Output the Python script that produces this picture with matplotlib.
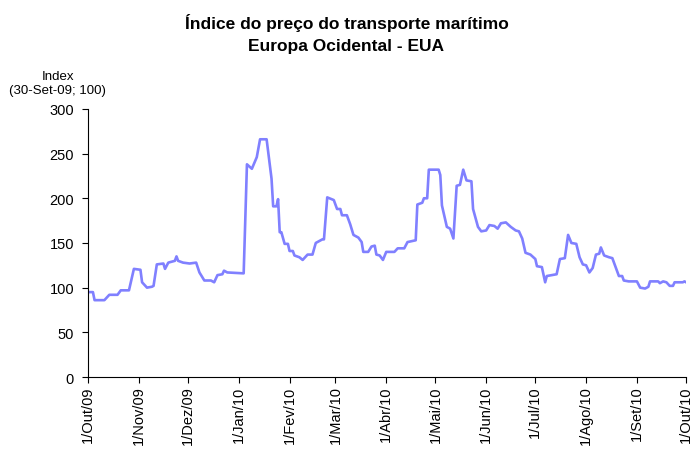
import matplotlib.pyplot as plt
import matplotlib.dates as mdates
import pandas as pd

plt.rcParams['font.family'] = ['Liberation Sans', 'DejaVu Sans']

# dias desde 1/Out/09 e valores do índice
days = [0, 3, 4, 10, 13, 18, 20, 25, 28, 32, 33, 36, 39, 40, 42, 46, 47, 49, 53, 54,
        55, 58, 62, 66, 68, 71, 75, 77, 79, 82, 83, 85, 95, 97, 100, 103, 105, 109, 112, 113,
        115, 116, 117, 118, 120, 122, 123, 125, 126, 129, 131, 134, 137, 139, 143, 144, 146, 150, 152, 154,
        155, 158, 160, 162, 165, 167, 168, 171, 173, 175, 176, 178, 180, 182, 187, 189, 193, 195, 200, 201,
        204, 205, 207, 208, 214, 215, 216, 219, 221, 223, 225, 227, 229, 231, 234, 235, 238, 240, 243, 245,
        248, 250, 252, 255, 258, 261, 263, 265, 267, 270, 273, 274, 277, 279, 280, 286, 288, 291, 293, 295,
        298, 300, 302, 304, 306, 308, 310, 312, 313, 315, 318, 320, 322, 324, 326, 327, 330, 335, 337, 340,
        342, 343, 348, 349, 351, 353, 355, 357, 358, 363, 364, 365]
values = [95, 95, 86, 86, 92, 92, 97, 97, 121, 120, 106, 100, 101, 102, 126, 127, 121, 128, 130, 135,
          130, 128, 127, 128, 117, 108, 108, 106, 114, 115, 119, 117, 116, 238, 233, 246, 266, 266, 222, 191,
          191, 199, 162, 162, 149, 149, 141, 141, 136, 134, 131, 137, 137, 150, 154, 154, 201, 198, 188, 188,
          181, 181, 171, 159, 156, 151, 140, 140, 146, 147, 137, 136, 131, 140, 140, 144, 144, 151, 153, 193,
          195, 200, 200, 232, 232, 226, 192, 168, 166, 155, 214, 215, 232, 220, 219, 188, 168, 163, 164, 170,
          169, 166, 172, 173, 168, 164, 163, 155, 139, 137, 132, 124, 123, 106, 113, 115, 132, 133, 159, 150,
          149, 134, 126, 125, 117, 122, 137, 138, 145, 136, 134, 133, 123, 113, 113, 108, 107, 107, 100, 99,
          101, 107, 107, 105, 107, 106, 102, 102, 106, 106, 107, 106]

tick_labels = ['1/Out/09', '1/Nov/09', '1/Dez/09', '1/Jan/10', '1/Fev/10', '1/Mar/10', '1/Abr/10',
               '1/Mai/10', '1/Jun/10', '1/Jul/10', '1/Ago/10', '1/Set/10', '1/Out/10']

start = pd.Timestamp('2009-10-01')
dates = [start + pd.Timedelta(days=d) for d in days]
tick_dates = pd.date_range('2009-10-01', '2010-10-01', freq='MS')

fig = plt.figure(figsize=(6.93, 4.56), dpi=100)
ax = fig.add_axes([0.127, 0.171, 0.863, 0.588])
ax.plot(dates, values, color='#8080FF', linewidth=1.9)

ax.set_xlim(start, pd.Timestamp('2010-10-01'))
ax.set_ylim(0, 300)
ax.set_yticks(range(0, 301, 50))
ax.set_xticks(tick_dates)
ax.set_xticklabels(tick_labels, rotation=90, fontsize=10.5)
ax.tick_params(axis='y', labelsize=10.5, direction='out', length=4, pad=6)
ax.tick_params(axis='x', direction='out', length=4, pad=2)
ax.spines['top'].set_visible(False)
ax.spines['right'].set_visible(False)

# título em duas linhas
fig.text(0.5, 0.936, 'Índice do preço do transporte marítimo',
         ha='center', va='baseline', fontsize=12.5, fontweight='bold')
fig.text(0.5, 0.888, 'Europa Ocidental - EUA',
         ha='center', va='baseline', fontsize=12.5, fontweight='bold')
fig.text(0.083, 0.8246, 'Index', ha='center', va='baseline', fontsize=9.5)
fig.text(0.083, 0.7932, '(30-Set-09; 100)', ha='center', va='baseline', fontsize=9.5)

fig.savefig('out.png', dpi=100)
